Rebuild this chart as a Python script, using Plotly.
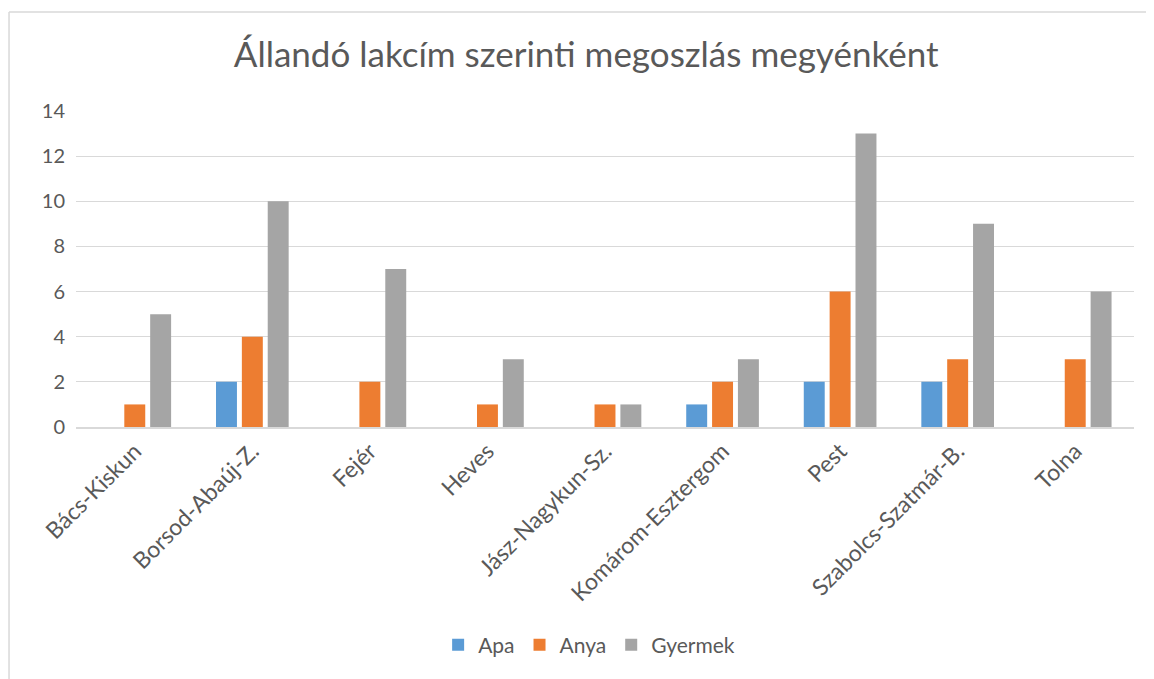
import plotly.graph_objects as go

megyek = ["Bács-Kiskun", "Borsod-Abaúj-Z.", "Fejér", "Heves", "Jász-Nagykun-Sz.",
          "Komárom-Esztergom", "Pest", "Szabolcs-Szatmár-B.", "Tolna"]
apa = [0, 2, 0, 0, 0, 1, 2, 2, 0]
anya = [1, 4, 2, 1, 1, 2, 6, 3, 3]
gyermek = [5, 10, 7, 3, 1, 3, 13, 9, 6]

colores = ["#5B9BD5", "#ED7D31", "#A5A5A5"]
szoveg = "#595959"
betu = "Lato, 'Open Sans', sans-serif"

fig = go.Figure()
for nev, ertek, szin in zip(["Apa", "Anya", "Gyermek"], [apa, anya, gyermek], colores):
    fig.add_trace(go.Bar(x=megyek, y=ertek, name=nev, marker_color=szin,
                         marker_line_width=0))

# keret (csak felso es bal oldali vonal latszik)
fig.add_shape(type="line", xref="paper", yref="paper", x0=-0.0633, x1=1.1,
              y0=1.313, y1=1.313, line=dict(color="#D9D9D9", width=1.5))
fig.add_shape(type="line", xref="paper", yref="paper", x0=-0.0633, x1=-0.0633,
              y0=1.313, y1=-0.9, line=dict(color="#D9D9D9", width=1.5))

fig.update_layout(
    width=1154, height=679,
    plot_bgcolor="white", paper_bgcolor="white",
    margin=dict(l=68, r=28, t=103, b=260),
    title=dict(text="Állandó lakcím szerinti megoszlás megyénként",
               x=0.501, xanchor="center", y=0.931, yanchor="middle",
               font=dict(family=betu, size=35, color=szoveg)),
    barmode="group", bargap=0.34, bargroupgap=0.19,
    font=dict(family=betu, color=szoveg, size=20),
    legend=dict(orientation="h", x=0.485, xanchor="center", y=-0.69, yanchor="middle",
                font=dict(size=21, color=szoveg), itemwidth=30, traceorder="normal"),
    xaxis=dict(tickangle=-45, showline=True, linecolor="#D9D9D9", linewidth=1.5,
               ticks="", tickfont=dict(size=23, color=szoveg), automargin=False),
    yaxis=dict(range=[0, 14], dtick=2, showgrid=True, gridcolor="#D9D9D9",
               gridwidth=1, zeroline=False, ticks="", ticksuffix="\u2002",
               tickfont=dict(size=20, color=szoveg), automargin=False),
)

fig.write_html("out.html")
